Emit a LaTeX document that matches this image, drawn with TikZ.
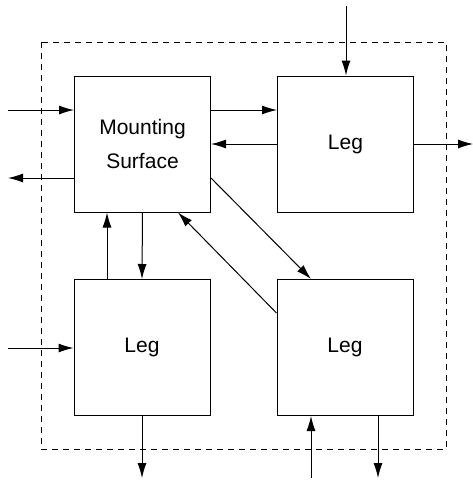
\documentclass[tikz,border=0pt]{standalone}
\usepackage{fontspec}
\setmainfont{Liberation Sans}
\usetikzlibrary{arrows.meta}
\begin{document}
\begin{tikzpicture}[x=1pt,y=-1pt,
  blk/.style={draw,line width=1pt,minimum width=136pt,minimum height=136pt,inner sep=0pt,
    font=\fontsize{21}{34}\selectfont,align=center},
  arr/.style={line width=1pt,-{Latex[length=15pt,width=9pt]}},
  boundary/.style={line width=0.9pt,dash pattern=on 6pt off 5pt}]
\useasboundingbox (0,0) rectangle (473,482);
\draw[boundary] (41,42) rectangle (446,449);
\node[blk] (ms) at (142.5,144) {Mounting\\Surface};
\node[blk] (tr) at (345.5,144) {Leg};
\node[blk] (bl) at (142,347.5) {Leg};
\node[blk] (br) at (345,347.5) {Leg};
% free ends and helper coordinates
\coordinate (inMS) at (8,110);
\coordinate (outMS) at (8,178);
\coordinate (inTR) at (346,6);
\coordinate (outTR) at (473,144);
\coordinate (upx) at (107,250);
\coordinate (inBL) at (8,348);
\coordinate (outBL) at (142,478);
\coordinate (inBR) at (311,478);
\coordinate (outBR) at (378,478);
\coordinate (dBack) at (178,313);
% connectors
\draw[arr] (inMS) -- (inMS -| ms.west);
\draw[arr] (outMS -| ms.west) -- (outMS);
\draw[arr] (ms.east |- inMS) -- (tr.west |- inMS);
\draw[arr] (tr.west) -- (ms.east);
\draw[arr] (inTR) -- (inTR |- tr.north);
\draw[arr] (tr.east) -- (outTR);
\draw[arr] (ms.south) -- (bl.north);
\draw[arr] (bl.north -| upx) -- (ms.south -| upx);
\draw[arr] (inBL) -- (inBL -| bl.west);
\draw[arr] (bl.south) -- (outBL);
\draw[arr] (ms.east |- outMS) -- (br.north -| inBR);
\draw[arr] (br.west |- dBack) -- (ms.south -| dBack);
\draw[arr] (inBR) -- (inBR |- br.south);
\draw[arr] (br.south -| outBR) -- (outBR);
\end{tikzpicture}
\end{document}
